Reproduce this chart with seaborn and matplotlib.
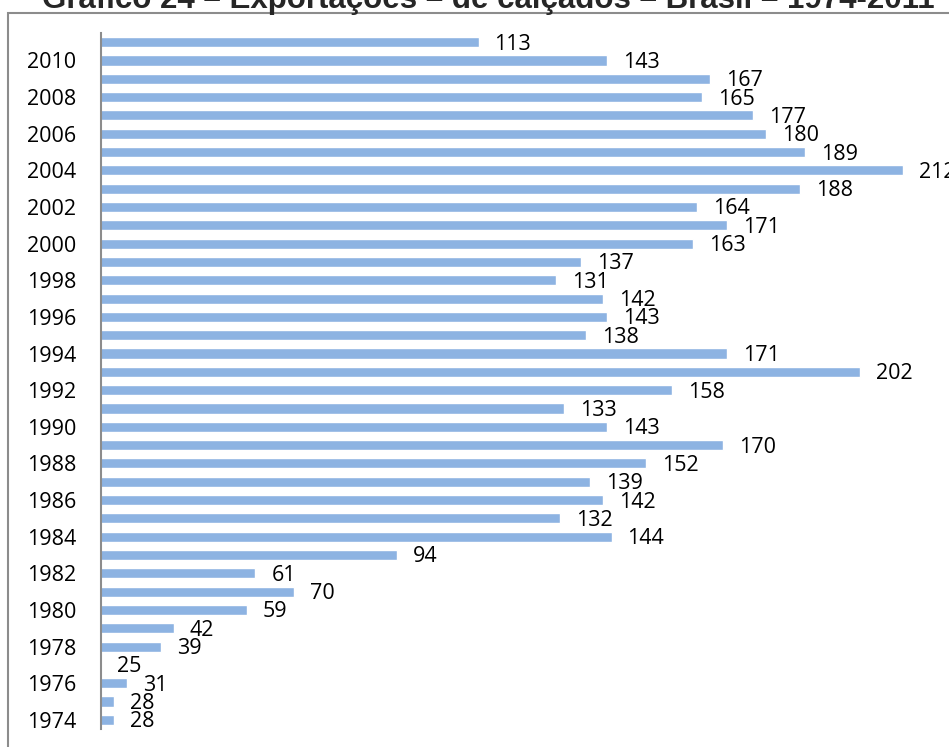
import matplotlib
matplotlib.use("Agg")
import matplotlib.pyplot as plt
import seaborn as sns
import pandas as pd
from matplotlib.patches import Rectangle

years = list(range(2011, 1973, -1))
values = [113, 143, 167, 165, 177, 180, 189, 212, 188, 164,
          171, 163, 137, 131, 142, 143, 138, 171, 202, 158,
          133, 143, 170, 152, 139, 142, 132, 144, 94, 61,
          70, 59, 42, 39, 25, 31, 28, 28]
title = "Gráfico 24 – Exportações – de calçados – Brasil – 1974-2011"
x_min = 25

df = pd.DataFrame({"ano": [str(y) for y in years], "valor": values})

sns.set_theme(style="white")
plt.rcParams['font.family'] = ['Open Sans', 'DejaVu Sans']

W, H = 949, 747
fig = plt.figure(figsize=(W / 100, H / 100), dpi=100)
fig.patch.set_facecolor("white")

# outer border (cropped chart area)
fig.add_artist(Rectangle((8 / W, -0.1), 1.2, 1.1 - 12.5 / H, transform=fig.transFigure,
                         fill=False, edgecolor="#8c8c8c", linewidth=1.5))

ax_left, ax_right = 101, W
ax_top, ax_bottom = 33, 729
ax = fig.add_axes([ax_left / W, 1 - ax_bottom / H, (ax_right - ax_left) / W, (ax_bottom - ax_top) / H])

sns.barplot(data=df, x="valor", y="ano", order=df["ano"], color="#8DB3E2",
            saturation=1, width=0.55, ax=ax, orient="h")

px_per_unit = 4.29
ax.set_xlim(x_min, x_min + (ax_right - ax_left) / px_per_unit)
ax.set_ylim(len(years) - 0.5, -0.5)

for i, v in enumerate(values):
    ax.annotate(str(v), xy=(v, i), xytext=(16, -2), textcoords="offset pixels",
                ha="left", va="center", fontsize=15.5, color="black",
                annotation_clip=False)

ticks = [i for i, y in enumerate(years) if y % 2 == 0]
ax.set_yticks(ticks)
ax.set_yticklabels([str(years[i]) for i in ticks], fontsize=15.5, color="black")
ax.tick_params(axis="y", length=0, pad=18)
ax.set_xticks([])
ax.set_xlabel("")
ax.set_ylabel("")
for s in ["top", "right", "bottom"]:
    ax.spines[s].set_visible(False)
ax.spines["left"].set_color("#8c8c8c")
ax.spines["left"].set_linewidth(1.5)

fig.text(488 / W, 1 - 8 / H, title, ha="center", va="baseline",
         fontsize=22.5, fontweight="bold", family=["Liberation Sans", "DejaVu Sans"])

fig.savefig("out.png", dpi=100)
